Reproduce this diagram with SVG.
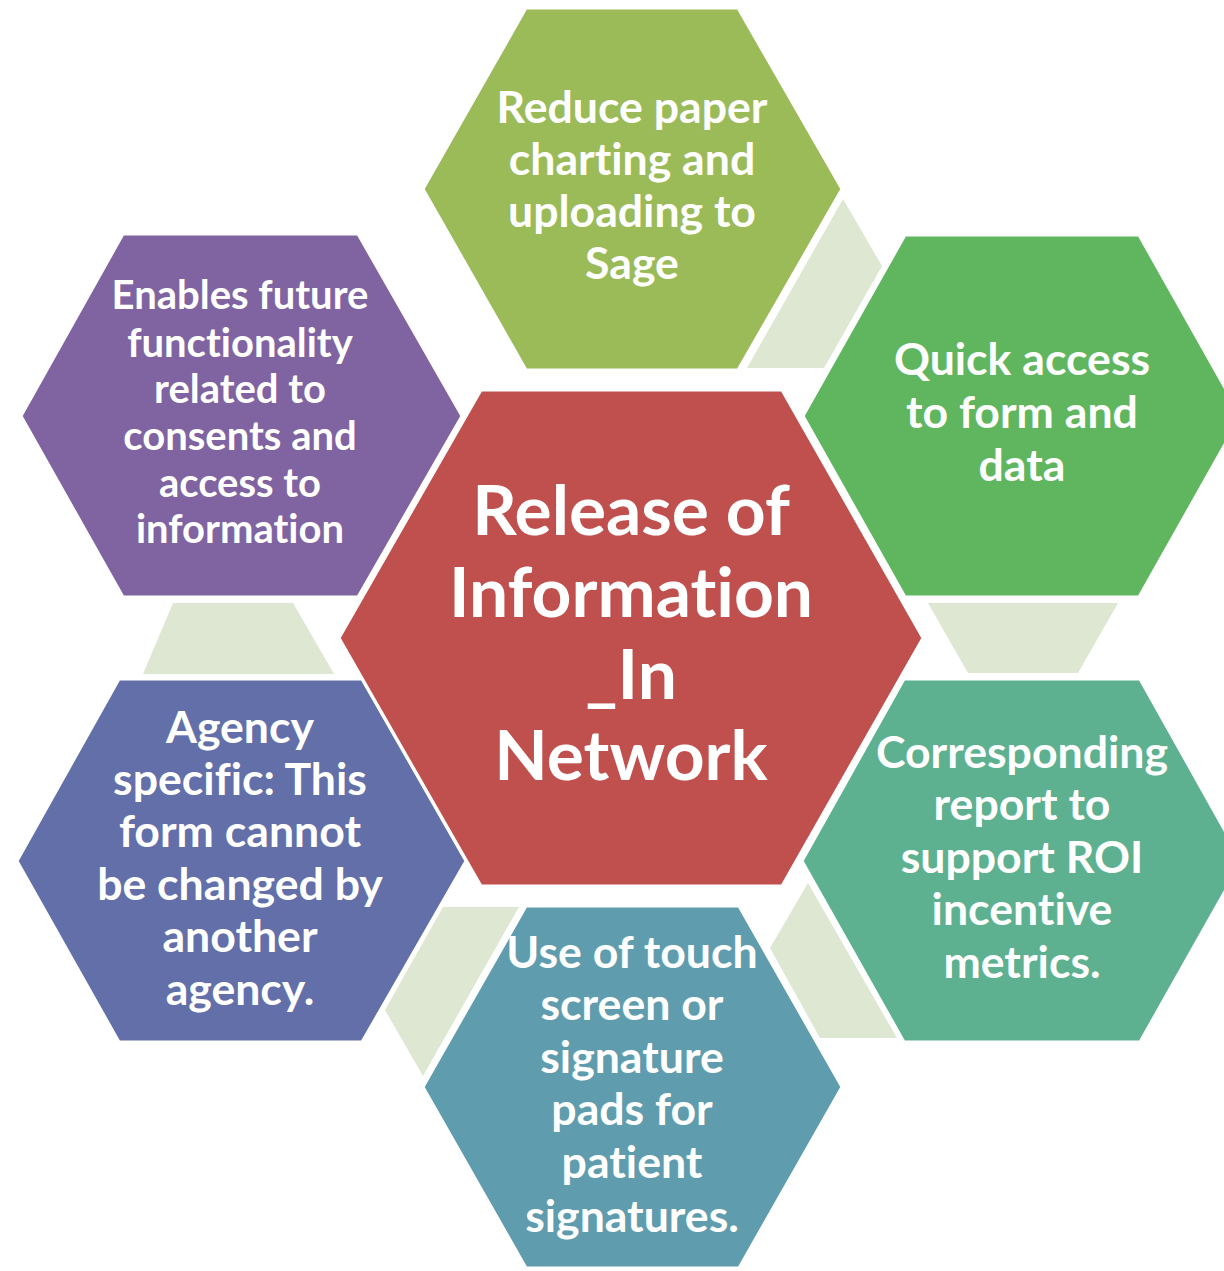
<svg xmlns="http://www.w3.org/2000/svg" width="1224" height="1271" viewBox="0 0 1224 1271">
<style>
.hex{stroke:#FFFFFF;stroke-width:3;stroke-linejoin:miter}
.conn{fill:#DEE7D2}
.t{font-family:Lato,"Liberation Sans",sans-serif;font-weight:700;fill:#FFFFFF;text-anchor:middle;font-size:44.6px;font-variant-ligatures:none;font-feature-settings:"liga" 0,"clig" 0}
.s{font-size:40px}
.c{font-size:69.5px}
</style>
<rect width="1224" height="1271" fill="#FFFFFF"/>
<g id="connectors">
<polygon class="conn" points="843,199 882,266 824,368 747,368"/>
<polygon class="conn" points="928,603 1118,603 1078,673 968,673"/>
<polygon class="conn" points="808,883 897,1038 820,1038 770,948"/>
<polygon class="conn" points="443,907 519,907 423,1076 385,1010"/>
<polygon class="conn" points="173,603 293,603 334,674 143,674"/>
</g>
<g id="node-top">
<polygon class="hex" fill="#9BBB59" points="423,189 526,8 738,8 842,189 738,370 526,370"/>
<text class="t" x="632" y="123">Reduce paper</text>
<text class="t" x="632" y="175">charting and</text>
<text class="t" x="632" y="227">uploading to</text>
<text class="t" x="632" y="279">Sage</text>
</g>
<g id="node-upper-right">
<polygon class="hex" fill="#60B65E" points="803,416 905,235 1139,235 1241,416 1139,597 905,597"/>
<text class="t" x="1022" y="375">Quick access</text>
<text class="t" x="1022" y="428">to form and</text>
<text class="t" x="1022" y="481">data</text>
</g>
<g id="node-lower-right">
<polygon class="hex" fill="#5DB190" points="802,861 904,679 1140,679 1242,861 1140,1042 904,1042"/>
<text class="t" x="1022" y="768">Corresponding</text>
<text class="t" x="1022" y="820">report to</text>
<text class="t" x="1022" y="873">support ROI</text>
<text class="t" x="1022" y="925">incentive</text>
<text class="t" x="1022" y="978">metrics.</text>
</g>
<g id="node-bottom">
<polygon class="hex" fill="#5F9DAE" points="423,1087 526,906 739,906 842,1087 739,1268 526,1268"/>
<text class="t" x="632" y="968">Use of touch</text>
<text class="t" x="632" y="1020">screen or</text>
<text class="t" x="632" y="1073">signature</text>
<text class="t" x="632" y="1125">pads for</text>
<text class="t" x="632" y="1178">patient</text>
<text class="t" x="632" y="1232">signatures.</text>
</g>
<g id="node-lower-left">
<polygon class="hex" fill="#626FA9" points="17,861 119,679 362,679 466,861 362,1042 119,1042"/>
<text class="t" x="240" y="743">Agency</text>
<text class="t" x="240" y="795">specific: This</text>
<text class="t" x="240" y="847">form cannot</text>
<text class="t" x="240" y="900">be changed by</text>
<text class="t" x="240" y="952">another</text>
<text class="t" x="240" y="1005">agency.</text>
</g>
<g id="node-upper-left">
<polygon class="hex" fill="#8064A2" points="21,416 123,234 358,234 462,416 358,597 123,597"/>
<text class="t s" x="240" y="309">Enables future</text>
<text class="t s" x="240" y="357">functionality</text>
<text class="t s" x="240" y="403">related to</text>
<text class="t s" x="240" y="450">consents and</text>
<text class="t s" x="240" y="497">access to</text>
<text class="t s" x="240" y="543">information</text>
</g>
<g id="node-center">
<polygon class="hex" fill="#C0504D" points="339,638 481,390 782,390 923,638 782,886 481,886"/>
<text class="t c" x="631" y="535">Release of</text>
<text class="t c" x="631" y="617">Information</text>
<text class="t c" x="631" y="699">_In</text>
<text class="t c" x="631" y="780">Network</text>
</g>
</svg>
